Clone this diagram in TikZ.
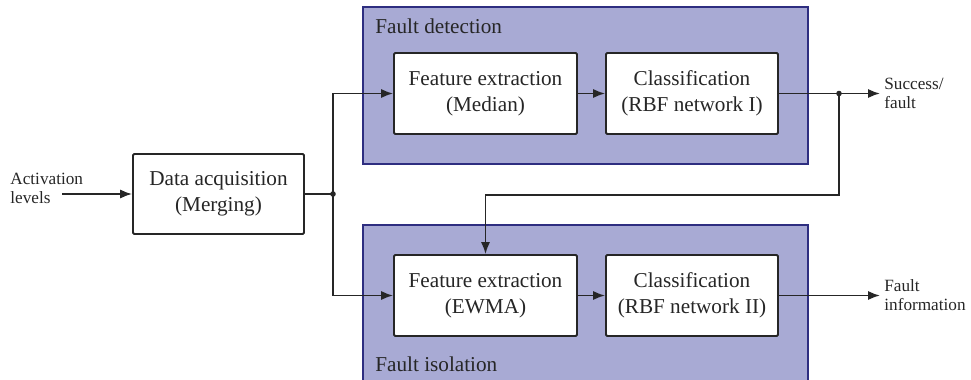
\documentclass[tikz,border=0pt]{standalone}
\usepackage{fontspec}
\setmainfont{Liberation Serif}
\usetikzlibrary{arrows.meta}
\definecolor{panelfill}{RGB}{168,170,212}
\definecolor{panelline}{RGB}{46,46,128}
\tikzset{
  box/.style={draw=black!85, fill=white, line width=0.95pt, rounded corners=0.6pt, align=center,
    font=\fontsize{10.6}{13}\selectfont, minimum height=40.5pt, inner sep=0pt},
  panel/.style={draw=panelline, fill=panelfill, line width=0.85pt, inner sep=0pt},
  arr/.style={line width=0.85pt, draw=black!85, -{Latex[length=6pt,width=4.6pt]}},
  ln/.style={line width=0.85pt, draw=black!85},
  small/.style={font=\fontsize{8.6}{9.6}\selectfont, align=left, inner sep=0pt, text=black!85},
  title/.style={font=\fontsize{10.6}{13}\selectfont, inner sep=0pt, text=black!85},
  dotj/.style={fill=black!85, circle, inner sep=0pt, minimum size=2.8pt}
}
\begin{document}
\begin{tikzpicture}[x=0.5pt, y=-0.5pt]
\useasboundingbox (0,0) rectangle (971,380);
% panels
\node[panel, minimum width=222.5pt, minimum height=78.5pt] (fd) at (585.5,85.5) {};
\node[panel, minimum width=222.5pt, minimum height=80pt] (fi) at (585.5,305) {};
\node[title, anchor=west] (fdt) at (375,26) {Fault detection};
\node[title, anchor=west] (fit) at (375,364) {Fault isolation};
% boxes
\node[box, minimum width=85.5pt, minimum height=40pt, text=black!85] (da) at (218.5,194) {Data acquisition\\(Merging)};
\node[box, minimum width=91.5pt, text=black!85] (fe) at (485.5,93.5) {Feature extraction\\(Median)};
\node[box, minimum width=86pt, text=black!85] (c1) at (692,93.5) {Classification\\(RBF network I)};
\node[box, minimum width=91.5pt, text=black!85] (ew) at (485.5,295.5) {Feature extraction\\(EWMA)};
\node[box, minimum width=86pt, text=black!85] (c2) at (692,295.5) {Classification\\(RBF network II)};
% labels
\node[small, anchor=west] (act) at (10,188) {Activation\\levels};
\node[small, anchor=west] (sf) at (884,93) {Success/\\fault};
\node[small, anchor=west] (finf) at (884,295) {Fault\\information};
% coordinates
\coordinate (in) at (62,194);
\coordinate (j1) at (333,194);
\coordinate (j2) at (839,93.5);
\coordinate (fb) at (839,195);
\coordinate (o1) at (880,93.5);
\coordinate (o2) at (880,295.5);
% connectors
\draw[arr] (in) -- (da.west);
\draw[ln] (da.east) -- (j1);
\draw[arr] (j1) |- (fe.west);
\draw[arr] (j1) |- (ew.west);
\draw[arr] (fe.east) -- (c1.west);
\draw[arr] (ew.east) -- (c2.west);
\draw[arr] (c1.east) -- (o1);
\draw[arr] (c2.east) -- (o2);
\draw[arr] (j2) -- (fb) -| (ew.north);
\node[dotj] (d1) at (j1) {};
\node[dotj] (d2) at (j2) {};
\end{tikzpicture}
\end{document}
